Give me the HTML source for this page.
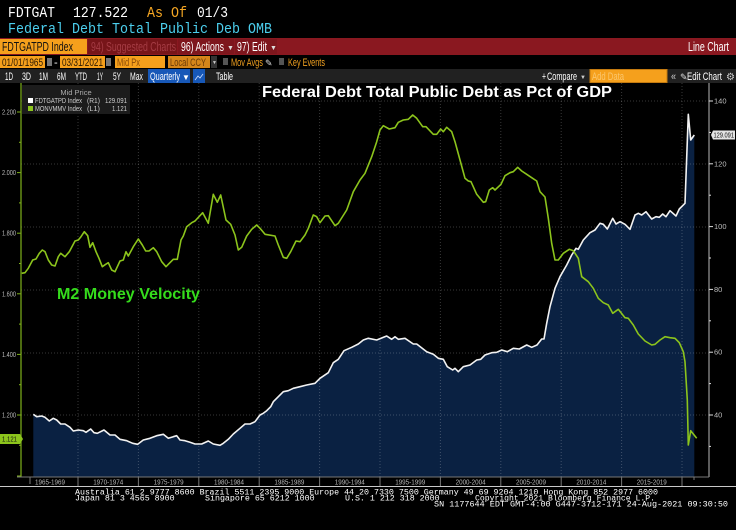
<!DOCTYPE html>
<html><head><meta charset="utf-8"><style>
html,body{margin:0;padding:0;background:#000;}
svg{display:block;}
</style></head><body>
<svg width="736" height="530" viewBox="0 0 736 530" xmlns="http://www.w3.org/2000/svg" font-family="Liberation Sans, sans-serif">
<rect x="0" y="0" width="736" height="530" fill="#000"/>
<!-- header lines -->
<g font-family="Liberation Mono, monospace" font-size="14.5">
<text x="8" y="17" fill="#fff" textLength="47" lengthAdjust="spacingAndGlyphs">FDTGAT</text>
<text x="73" y="17" fill="#fff" textLength="55" lengthAdjust="spacingAndGlyphs">127.522</text>
<text x="147" y="17" fill="#f5a623" textLength="40" lengthAdjust="spacingAndGlyphs">As Of</text>
<text x="197" y="17" fill="#fff" textLength="31" lengthAdjust="spacingAndGlyphs">01/3</text>
<text x="8" y="33" fill="#4ccfee" textLength="264" lengthAdjust="spacingAndGlyphs" style="white-space:pre">Federal Debt Total Public Deb OMB</text>
</g>
<!-- red bar -->
<rect x="0" y="38" width="736" height="17" fill="#8a1820"/>
<rect x="0" y="39" width="87" height="15" fill="#f5a01c"/>
<text x="2" y="51" font-size="13" fill="#111" textLength="71" lengthAdjust="spacingAndGlyphs">FDTGATPD Index</text>
<rect x="88" y="39" width="89" height="15" fill="#771519"/>
<text x="91" y="51" font-size="13" fill="#a53c44" textLength="85" lengthAdjust="spacingAndGlyphs">94) Suggested Charts</text>
<rect x="178" y="39" width="56" height="15" fill="#7e161d"/>
<text x="181" y="51" font-size="13" fill="#fff" textLength="43" lengthAdjust="spacingAndGlyphs">96) Actions</text>
<text x="227" y="50" font-size="7" fill="#ddd">▼</text>
<rect x="235" y="39" width="42" height="15" fill="#7e161d"/>
<text x="237" y="51" font-size="13" fill="#fff" textLength="30" lengthAdjust="spacingAndGlyphs">97) Edit</text>
<text x="270" y="50" font-size="7" fill="#ddd">▼</text>
<text x="688" y="51" font-size="13" fill="#fff" textLength="41" lengthAdjust="spacingAndGlyphs">Line Chart</text>
<!-- row 3 -->
<g font-size="11">
<rect x="0" y="56" width="45" height="12" fill="#f5a01c"/>
<text x="2" y="66" fill="#2a1800" textLength="41" lengthAdjust="spacingAndGlyphs">01/01/1965</text>
<rect x="47" y="58" width="5" height="8" fill="#777"/>
<text x="54" y="66" fill="#fff">-</text>
<rect x="60" y="56" width="45" height="12" fill="#f5a01c"/>
<text x="62" y="66" fill="#2a1800" textLength="41" lengthAdjust="spacingAndGlyphs">03/31/2021</text>
<rect x="106" y="58" width="5" height="8" fill="#777"/>
<rect x="115" y="56" width="50" height="12" fill="#f5a01c"/>
<text x="117" y="66" fill="#8a4a08" textLength="23" lengthAdjust="spacingAndGlyphs">Mid Px</text>
<rect x="168" y="56" width="42" height="12" fill="#d5861a"/>
<text x="170" y="66" fill="#6a3a08" textLength="36" lengthAdjust="spacingAndGlyphs">Local CCY</text>
<rect x="211" y="56" width="6" height="12" fill="#333"/>
<text x="212" y="64" font-size="5" fill="#ccc">▼</text>
<rect x="223" y="58" width="5" height="7" fill="#555"/>
<text x="231" y="66" fill="#f0a020" textLength="32" lengthAdjust="spacingAndGlyphs">Mov Avgs</text>
<text x="265" y="66" font-size="9" fill="#ddd">✎</text>
<rect x="279" y="58" width="5" height="7" fill="#555"/>
<text x="288" y="66" fill="#f0a020" textLength="37" lengthAdjust="spacingAndGlyphs">Key Events</text>
</g>
<!-- row 4 -->
<rect x="0" y="69" width="736" height="14" fill="#212121"/>
<g font-size="11" fill="#fff">
<text x="5" y="80" textLength="8" lengthAdjust="spacingAndGlyphs">1D</text>
<text x="22" y="80" textLength="9" lengthAdjust="spacingAndGlyphs">3D</text>
<text x="39" y="80" textLength="9" lengthAdjust="spacingAndGlyphs">1M</text>
<text x="57" y="80" textLength="9" lengthAdjust="spacingAndGlyphs">6M</text>
<text x="75" y="80" textLength="12" lengthAdjust="spacingAndGlyphs">YTD</text>
<text x="97" y="80" textLength="6" lengthAdjust="spacingAndGlyphs">1Y</text>
<text x="113" y="80" textLength="8" lengthAdjust="spacingAndGlyphs">5Y</text>
<text x="130" y="80" textLength="13" lengthAdjust="spacingAndGlyphs">Max</text>
<rect x="148" y="69" width="42" height="14" fill="#1758b8"/>
<text x="150" y="80" textLength="30" lengthAdjust="spacingAndGlyphs">Quarterly</text>
<text x="182" y="80" font-size="8">▼</text>
<rect x="193" y="69" width="12" height="14" fill="#1758b8"/>
<polyline points="195,80 198,76 200,78 203,74" fill="none" stroke="#cfe0ff" stroke-width="0.8"/>
<text x="216" y="80" textLength="17" lengthAdjust="spacingAndGlyphs">Table</text>
<text x="542" y="80" textLength="4" lengthAdjust="spacingAndGlyphs">+</text>
<text x="547" y="80" textLength="30" lengthAdjust="spacingAndGlyphs">Compare</text>
<text x="580" y="79" font-size="6" fill="#ccc">▼</text>
<rect x="590" y="69.5" width="77" height="13" fill="#f5a01c" stroke="#c47a10" stroke-width="1"/>
<text x="592" y="80" fill="#fbc66c" textLength="32" lengthAdjust="spacingAndGlyphs">Add Data</text>
<text x="671" y="80" fill="#ccc" textLength="5" lengthAdjust="spacingAndGlyphs">«</text>
<text x="680" y="80" font-size="9" fill="#ddd">✎</text>
<text x="687" y="80" textLength="35" lengthAdjust="spacingAndGlyphs">Edit Chart</text>
<text x="726" y="80" font-size="10" fill="#ccc">⚙</text>
</g>

<!-- area fill -->
<polygon fill="#0a2142" points="33.3,477 33.3,414.3 36.7,416.7 41.7,416 45,417.3 49.3,421 53.3,418.3 56.7,420 60.7,424 65,424 70,427.3 73.3,431 78.3,430 83.3,430.7 86,432.3 90.7,429 94,432.7 97.3,433.3 104,430 110,435 115,435 120,439.3 126.7,440.7 132.7,443.3 137.7,444.3 143.3,440 150,438.3 156.7,435.7 163.3,434.3 168.3,438.3 173.3,436.7 176.7,435.7 180,440 185,440.7 190,442.3 195,444 201.7,444 208.3,441 213.3,444 220,445.3 223.3,443.3 228.3,439.3 233.3,434 240,428.3 245,424 250,424 255,421.7 260,415 263.3,413.3 266.7,410.7 270.7,406.7 273.3,401.7 278.3,396.7 283.3,391.7 288.3,390.7 293.3,388.3 300,386.7 306.7,385 315,383.3 320,378.3 328.3,372.7 333.3,362.7 338.3,359.3 344,350.7 351.7,347.3 358.3,344 363.3,340 368.3,338.3 376.7,340 386.7,336 391.7,339.3 395,336.7 398.3,339.3 405,338.3 413.3,344 416.7,344 426.7,351.7 433.3,354.3 438.3,358.3 443.3,359.3 447.3,366.7 452.7,370 455,368.3 458.3,371.7 463.3,366.7 470,365 476.7,360 480.7,359.3 485,355 491.7,352.7 496.7,352.3 501.7,350 507.3,351.7 513.3,348.3 519.3,349 526.7,345 531.7,347.3 537,345 541.7,339 544,339 546.7,323.3 550,306.7 555,288.3 560,276.7 566.7,265 571.7,255 576,248.3 578.3,249.3 583.3,240 590,232.7 595,230 600,223.3 603.3,224.3 607.3,229 612.7,218.3 616,224 620,221.7 625,224.3 630,229.3 635,215 638.3,213.3 641.7,215 646,211.7 651.7,219 656,216.7 659.3,217.3 662.7,214 666,216.7 670,210.7 676,216 679.3,209 685,203.3 688.3,114.3 690.7,140 694.3,135 694.3,477"/>

<!-- gridlines -->
<g stroke="rgba(255,255,255,0.22)" stroke-width="1" stroke-dasharray="1,2">
<line x1="21" y1="101" x2="709" y2="101"/>
<line x1="21" y1="164" x2="709" y2="164"/>
<line x1="21" y1="227" x2="709" y2="227"/>
<line x1="21" y1="290" x2="709" y2="290"/>
<line x1="21" y1="353" x2="709" y2="353"/>
<line x1="21" y1="415" x2="709" y2="415"/>
<line x1="78" y1="83" x2="78" y2="477"/>
<line x1="138.4" y1="83" x2="138.4" y2="477"/>
<line x1="198.8" y1="83" x2="198.8" y2="477"/>
<line x1="259.2" y1="83" x2="259.2" y2="477"/>
<line x1="319.6" y1="83" x2="319.6" y2="477"/>
<line x1="380" y1="83" x2="380" y2="477"/>
<line x1="440.4" y1="83" x2="440.4" y2="477"/>
<line x1="500.8" y1="83" x2="500.8" y2="477"/>
<line x1="561.2" y1="83" x2="561.2" y2="477"/>
<line x1="621.6" y1="83" x2="621.6" y2="477"/>
<line x1="682" y1="83" x2="682" y2="477"/>
</g>

<!-- white line -->
<polyline fill="none" stroke="#f2f2f2" stroke-width="1.6" stroke-linejoin="round" points="33.3,414.3 36.7,416.7 41.7,416 45,417.3 49.3,421 53.3,418.3 56.7,420 60.7,424 65,424 70,427.3 73.3,431 78.3,430 83.3,430.7 86,432.3 90.7,429 94,432.7 97.3,433.3 104,430 110,435 115,435 120,439.3 126.7,440.7 132.7,443.3 137.7,444.3 143.3,440 150,438.3 156.7,435.7 163.3,434.3 168.3,438.3 173.3,436.7 176.7,435.7 180,440 185,440.7 190,442.3 195,444 201.7,444 208.3,441 213.3,444 220,445.3 223.3,443.3 228.3,439.3 233.3,434 240,428.3 245,424 250,424 255,421.7 260,415 263.3,413.3 266.7,410.7 270.7,406.7 273.3,401.7 278.3,396.7 283.3,391.7 288.3,390.7 293.3,388.3 300,386.7 306.7,385 315,383.3 320,378.3 328.3,372.7 333.3,362.7 338.3,359.3 344,350.7 351.7,347.3 358.3,344 363.3,340 368.3,338.3 376.7,340 386.7,336 391.7,339.3 395,336.7 398.3,339.3 405,338.3 413.3,344 416.7,344 426.7,351.7 433.3,354.3 438.3,358.3 443.3,359.3 447.3,366.7 452.7,370 455,368.3 458.3,371.7 463.3,366.7 470,365 476.7,360 480.7,359.3 485,355 491.7,352.7 496.7,352.3 501.7,350 507.3,351.7 513.3,348.3 519.3,349 526.7,345 531.7,347.3 537,345 541.7,339 544,339 546.7,323.3 550,306.7 555,288.3 560,276.7 566.7,265 571.7,255 576,248.3 578.3,249.3 583.3,240 590,232.7 595,230 600,223.3 603.3,224.3 607.3,229 612.7,218.3 616,224 620,221.7 625,224.3 630,229.3 635,215 638.3,213.3 641.7,215 646,211.7 651.7,219 656,216.7 659.3,217.3 662.7,214 666,216.7 670,210.7 676,216 679.3,209 685,203.3 688.3,114.3 690.7,140 694.3,135"/>

<!-- green line -->
<polyline fill="none" stroke="#8cc41c" stroke-width="1.6" stroke-linejoin="round" points="21.7,273.3 25,272.7 28.3,268.3 32.7,260 36,259 39.3,253.3 42.3,250 45,251.7 48.3,260 51.7,265 55,266 58.3,256.7 60.7,253.3 65,256.7 69.3,251.7 75,241 78.3,240 81,236.7 84.3,231.7 87.7,235.7 90,247.3 92.7,242.7 96,251.7 99,258.3 102.3,266.7 105.7,264.3 108.3,262.7 111.7,270 115,271.7 120,261 123.3,260 126,251.7 128.3,256 133.3,246.7 138.3,239 142.3,245 145.7,251 149,251 153.3,247.7 156.7,251.7 161.7,261.7 166,266.7 169.3,263.3 173.3,259.3 177.3,259.3 181,240 183.3,236 186.7,226.7 191.7,222.7 195,221 202.7,212.7 208.3,223.3 213.3,194.3 217.3,202.3 220.7,195 226,220 230.7,224.3 235,235 238.3,250 241.7,247.3 246.7,236 251.7,229.3 256.7,225 260,228.3 265,234.3 275,236 278.3,245 283.3,257.3 286.7,258.3 290.7,251.7 296,241 300,241.7 305,235 308.3,228.3 313.3,215 316.7,216.7 320,222.7 325,216 328.3,215.7 335,225.7 338.3,223.3 341,219 346.7,210 353.3,191.7 360,180 365,173.3 371.7,156.7 376.7,141.7 380,130 383.3,125.7 389.3,129 395,127.7 398.3,122.3 403.3,120 408.3,119.3 412.7,115 416.7,118.3 422.7,126.7 426,126.7 433.3,134.3 436.7,134.3 440.7,129 443.3,131.7 446.7,127.3 451.7,131.7 455,141.7 460,160 465,178.3 468.3,181 471,181.7 476.7,194.3 483.3,202.3 485.7,201.7 489.3,190 492.7,187.7 495,190 501,184.3 505,175.7 510,172.7 513.3,171.7 517.7,167.3 521.7,171 526.7,174.3 531.7,177.7 536.7,181 540,191.7 545,197 548.3,218.3 551.7,243.3 555,260 558.3,260 563.3,253.3 569.3,249.3 573.3,250.7 578.3,258.3 581.7,276.7 588.3,281.7 593.3,288.3 598.3,298.3 603.3,302.7 608.3,305 612.7,313.3 618.3,309.3 625,317.7 628.3,318.3 633.3,325 638.3,334 645,341 651.7,345 655,344.3 660,340 665,336.7 670,337.7 675,338.3 679.3,342.7 683.3,351.7 685,361.7 687.3,400 688.3,445 690.7,430.7 696.7,438.3"/>

<!-- axes -->
<line x1="21" y1="83" x2="21" y2="477" stroke="#7fb21a" stroke-width="1.2"/>
<line x1="709" y1="83" x2="709" y2="477" stroke="#9a9a9a" stroke-width="1.2"/>
<line x1="17" y1="477" x2="709" y2="477" stroke="#777" stroke-width="1"/>
<g stroke="#7fb21a" stroke-width="1">
<line x1="17" y1="112" x2="21" y2="112"/><line x1="19" y1="142.3" x2="21" y2="142.3"/>
<line x1="17" y1="172.6" x2="21" y2="172.6"/><line x1="19" y1="202.9" x2="21" y2="202.9"/>
<line x1="17" y1="233.2" x2="21" y2="233.2"/><line x1="19" y1="263.5" x2="21" y2="263.5"/>
<line x1="17" y1="293.8" x2="21" y2="293.8"/><line x1="19" y1="324.1" x2="21" y2="324.1"/>
<line x1="17" y1="354.4" x2="21" y2="354.4"/><line x1="19" y1="384.7" x2="21" y2="384.7"/>
<line x1="17" y1="415" x2="21" y2="415"/><line x1="19" y1="445.3" x2="21" y2="445.3"/>
<line x1="17" y1="476" x2="21" y2="476"/>
</g>
<g font-size="7.5" fill="#bdbdbd">
<text x="2" y="114.5" textLength="14" lengthAdjust="spacingAndGlyphs">2.200</text>
<text x="2" y="175" textLength="14" lengthAdjust="spacingAndGlyphs">2.000</text>
<text x="2" y="235.7" textLength="14" lengthAdjust="spacingAndGlyphs">1.800</text>
<text x="2" y="296.3" textLength="14" lengthAdjust="spacingAndGlyphs">1.600</text>
<text x="2" y="357" textLength="14" lengthAdjust="spacingAndGlyphs">1.400</text>
<text x="2" y="417.5" textLength="14" lengthAdjust="spacingAndGlyphs">1.200</text>
</g>
<polygon points="0,434 20,434 23,439 20,444 0,444" fill="#8cc41c"/>
<text x="2" y="441.7" font-size="7.5" fill="#111" textLength="15" lengthAdjust="spacingAndGlyphs">1.121</text>

<g stroke="#ddd" stroke-width="1">
<line x1="709" y1="101" x2="713" y2="101"/><line x1="709" y1="132.4" x2="711" y2="132.4"/>
<line x1="709" y1="163.8" x2="713" y2="163.8"/><line x1="709" y1="195.2" x2="711" y2="195.2"/>
<line x1="709" y1="226.6" x2="713" y2="226.6"/><line x1="709" y1="258" x2="711" y2="258"/>
<line x1="709" y1="289.4" x2="713" y2="289.4"/><line x1="709" y1="320.8" x2="711" y2="320.8"/>
<line x1="709" y1="352.2" x2="713" y2="352.2"/><line x1="709" y1="383.6" x2="711" y2="383.6"/>
<line x1="709" y1="415" x2="713" y2="415"/><line x1="709" y1="446.4" x2="711" y2="446.4"/>
</g>
<g font-size="7.5" fill="#bdbdbd">
<text x="714" y="103.5">140</text>
<text x="714" y="166.3">120</text>
<text x="714" y="229.1">100</text>
<text x="714" y="291.9">80</text>
<text x="714" y="354.7">60</text>
<text x="714" y="417.5">40</text>
</g>
<polygon points="711,135 713,130.5 735,130.5 735,139.5 713,139.5" fill="#e4e4e4"/>
<text x="713.5" y="137.7" font-size="7" fill="#111" textLength="20.5" lengthAdjust="spacingAndGlyphs">129.091</text>

<!-- x axis labels -->
<g stroke="#777" stroke-width="1">
<line x1="30" y1="477" x2="30" y2="484"/>
<line x1="78" y1="477" x2="78" y2="486"/><line x1="138.4" y1="477" x2="138.4" y2="486"/>
<line x1="198.8" y1="477" x2="198.8" y2="486"/><line x1="259.2" y1="477" x2="259.2" y2="486"/>
<line x1="319.6" y1="477" x2="319.6" y2="486"/><line x1="380" y1="477" x2="380" y2="486"/>
<line x1="440.4" y1="477" x2="440.4" y2="486"/><line x1="500.8" y1="477" x2="500.8" y2="486"/>
<line x1="561.2" y1="477" x2="561.2" y2="486"/><line x1="621.6" y1="477" x2="621.6" y2="486"/>
<line x1="682" y1="477" x2="682" y2="486"/><line x1="694" y1="477" x2="694" y2="480"/>
</g>
<g font-size="7" fill="#b5b5b5" text-anchor="middle">
<text x="50" y="484.5" textLength="30" lengthAdjust="spacingAndGlyphs">1965-1969</text>
<text x="108.2" y="484.5" textLength="30" lengthAdjust="spacingAndGlyphs">1970-1974</text>
<text x="168.6" y="484.5" textLength="30" lengthAdjust="spacingAndGlyphs">1975-1979</text>
<text x="229" y="484.5" textLength="30" lengthAdjust="spacingAndGlyphs">1980-1984</text>
<text x="289.4" y="484.5" textLength="30" lengthAdjust="spacingAndGlyphs">1985-1989</text>
<text x="349.8" y="484.5" textLength="30" lengthAdjust="spacingAndGlyphs">1990-1994</text>
<text x="410.2" y="484.5" textLength="30" lengthAdjust="spacingAndGlyphs">1995-1999</text>
<text x="470.6" y="484.5" textLength="30" lengthAdjust="spacingAndGlyphs">2000-2004</text>
<text x="531" y="484.5" textLength="30" lengthAdjust="spacingAndGlyphs">2005-2009</text>
<text x="591.4" y="484.5" textLength="30" lengthAdjust="spacingAndGlyphs">2010-2014</text>
<text x="651.8" y="484.5" textLength="30" lengthAdjust="spacingAndGlyphs">2015-2019</text>
</g>

<!-- legend -->
<rect x="22" y="85" width="108" height="29" fill="#1c1c1c"/>
<text x="76" y="95" font-size="7.5" fill="#aaa" text-anchor="middle">Mid Price</text>
<rect x="28" y="98" width="5" height="5" fill="#fff"/>
<rect x="28" y="106" width="5" height="5" fill="#8cc41c"/>
<g font-size="7.5" fill="#cfcfcf">
<text x="35" y="103" textLength="47" lengthAdjust="spacingAndGlyphs">FDTGATPD Index</text>
<text x="87" y="103" textLength="13" lengthAdjust="spacingAndGlyphs">(R1)</text>
<text x="105" y="103" textLength="22" lengthAdjust="spacingAndGlyphs">129.091</text>
<text x="35" y="111" textLength="47" lengthAdjust="spacingAndGlyphs">MONVMMV Index</text>
<text x="87" y="111" textLength="13" lengthAdjust="spacingAndGlyphs">(L1)</text>
<text x="112" y="111" textLength="15" lengthAdjust="spacingAndGlyphs">1.121</text>
</g>

<!-- titles -->
<text x="262" y="97" font-size="16" font-weight="bold" fill="#fff" textLength="350" lengthAdjust="spacingAndGlyphs">Federal Debt Total Public Debt as Pct of GDP</text>
<text x="57" y="299" font-size="16" font-weight="bold" fill="#35dc1c" textLength="143" lengthAdjust="spacingAndGlyphs">M2 Money Velocity</text>

<!-- footer -->
<line x1="0" y1="486.5" x2="736" y2="486.5" stroke="#c8c8c8" stroke-width="1"/>
<g font-family="Liberation Mono, monospace" font-size="8.3" fill="#fff" style="white-space:pre">
<text x="75" y="494.5" textLength="583" lengthAdjust="spacingAndGlyphs">Australia 61 2 9777 8600 Brazil 5511 2395 9000 Europe 44 20 7330 7500 Germany 49 69 9204 1210 Hong Kong 852 2977 6000</text>
<text x="75" y="500.5" textLength="99.6" lengthAdjust="spacingAndGlyphs">Japan 81 3 4565 8900</text>
<text x="205" y="500.5" textLength="109.6" lengthAdjust="spacingAndGlyphs">Singapore 65 6212 1000</text>
<text x="345" y="500.5" textLength="94.6" lengthAdjust="spacingAndGlyphs">U.S. 1 212 318 2000</text>
<text x="475" y="500.5" textLength="180" lengthAdjust="spacingAndGlyphs">Copyright 2021 Bloomberg Finance L.P.</text>
<text x="434" y="506.5" textLength="294" lengthAdjust="spacingAndGlyphs">SN 1177644 EDT  GMT-4:00 G447-3712-171 24-Aug-2021 09:30:50</text>
</g>
</svg>
</body></html>
